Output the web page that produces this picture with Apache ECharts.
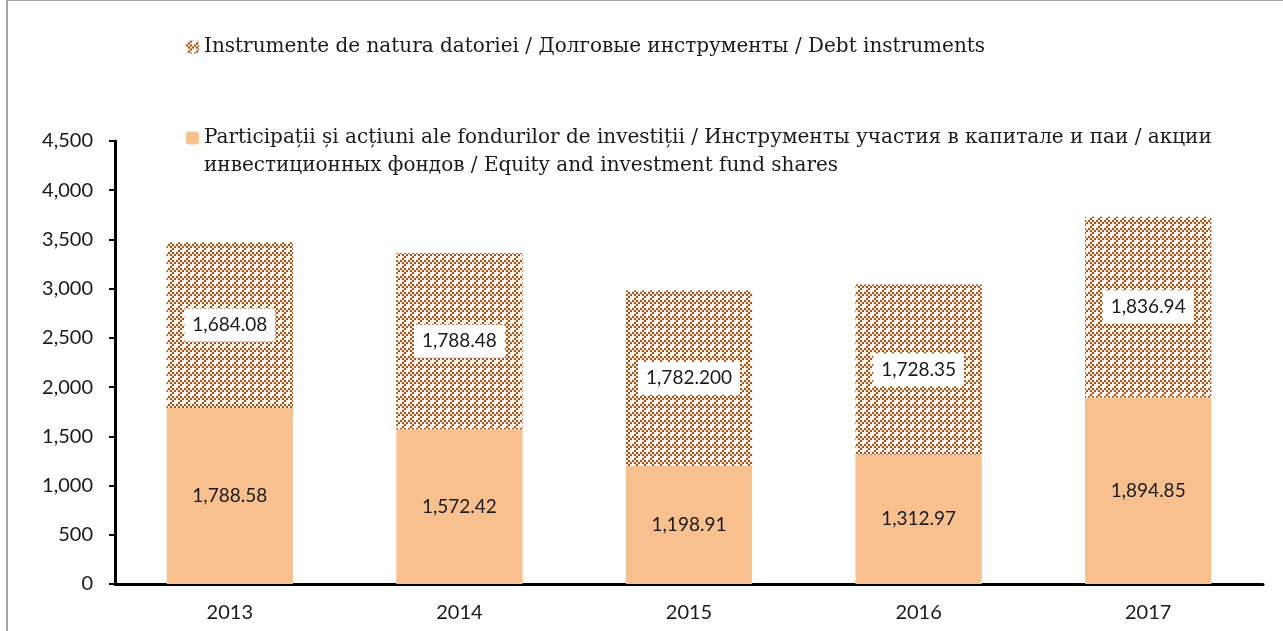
<!DOCTYPE html>
<html>
<head>
<meta charset="utf-8">
<script src="https://cdn.jsdelivr.net/npm/echarts@6/dist/echarts.min.js"></script>
<style>
  html, body { margin: 0; padding: 0; background: #fff; }
  #frame { position: absolute; left: 6px; top: 0; width: 1277px; height: 631px;
           border-left: 2px solid #a6a6a6; border-top: 1px solid #a6a6a6; box-sizing: border-box; }
  #chart { position: absolute; left: 0; top: 0; width: 1283px; height: 631px; }
</style>
</head>
<body>
<div id="frame"></div>
<div id="chart"></div>
<script>
// data
const years = ['2013', '2014', '2015', '2016', '2017'];
const equity = [1788.58, 1572.42, 1198.91, 1312.97, 1894.85];
const debt = [1684.08, 1788.48, 1782.2, 1728.35, 1836.94];
const debtLabels = ['1,684.08', '1,788.48', '1,782.200', '1,728.35', '1,836.94'];
const equityName = 'Participații și acțiuni ale fondurilor de investiții / Инструменты участия в капитале и паи / акции\nинвестиционных фондов / Equity and investment fund shares';
const debtName = 'Instrumente de natura datoriei / Долговые инструменты / Debt instruments';

// checkered brown fill for debt instruments
function makePattern() {
  const c = document.createElement('canvas');
  c.width = 8; c.height = 8;
  const ctx = c.getContext('2d');
  ctx.fillStyle = '#fbeee2';
  ctx.fillRect(0, 0, 8, 8);
  ctx.fillStyle = '#a5531a';
  for (let i = 0; i < 4; i++) {
    for (let j = 0; j < 4; j++) {
      if ((i + j) % 2 === 0) ctx.fillRect(i * 2, j * 2, 2, 2);
    }
  }
  ctx.fillStyle = '#ffffff';
  ctx.fillRect(0, 0, 2, 2);
  ctx.fillRect(6, 2, 2, 2);
  return c;
}
const pattern = { image: makePattern(), repeat: 'repeat' };

const fmt = v => v.toLocaleString('en-US', { minimumFractionDigits: 2, maximumFractionDigits: 2 });

let chart = echarts.init(document.getElementById('chart'));
chart.setOption({
  animation: false,
  textStyle: { fontFamily: 'Lato' },
  legend: [
    {
      left: 181, top: 32,
      itemWidth: 13, itemHeight: 13,
      data: [debtName],
      textStyle: { fontFamily: 'DejaVu Serif', fontSize: 20, color: '#1a1a1a' }
    },
    {
      // blank first line keeps the icon level with the first text line
      left: 181, top: 91,
      itemWidth: 13, itemHeight: 13,
      data: [equityName],
      formatter: name => ' \n' + name,
      textStyle: { fontFamily: 'DejaVu Serif', fontSize: 20, color: '#1a1a1a', lineHeight: 28 }
    }
  ],
  grid: { left: 115, right: 20, top: 141, bottom: 47 },
  xAxis: {
    type: 'category',
    data: years,
    axisLine: { lineStyle: { color: '#000', width: 3 } },
    axisTick: { length: 8, lineStyle: { color: '#000', width: 2 } },
    axisLabel: { color: '#1a1a1a', fontSize: 20, margin: 19 }
  },
  yAxis: {
    type: 'value',
    min: 0, max: 4500, interval: 500,
    splitLine: { show: false },
    axisLine: { show: true, lineStyle: { color: '#000', width: 3 } },
    axisTick: { show: true, length: 6, lineStyle: { color: '#000', width: 2 } },
    axisLabel: { color: '#1a1a1a', fontSize: 20, margin: 22, formatter: v => v.toLocaleString('en-US') }
  },
  series: [
    {
      name: equityName,
      type: 'bar',
      stack: 'total',
      barWidth: '55%',
      data: equity,
      itemStyle: { color: '#f8c08f' },
      label: { show: true, position: 'inside', color: '#1a1a1a', fontSize: 19, formatter: p => fmt(p.value) }
    },
    {
      name: debtName,
      type: 'bar',
      stack: 'total',
      barWidth: '55%',
      data: debt,
      itemStyle: { color: pattern },
      label: {
        show: true, position: 'inside', color: '#1a1a1a', fontSize: 19,
        backgroundColor: '#fff', padding: [7, 8],
        formatter: p => debtLabels[p.dataIndex]
      }
    }
  ]
});
</script>
</body>
</html>
